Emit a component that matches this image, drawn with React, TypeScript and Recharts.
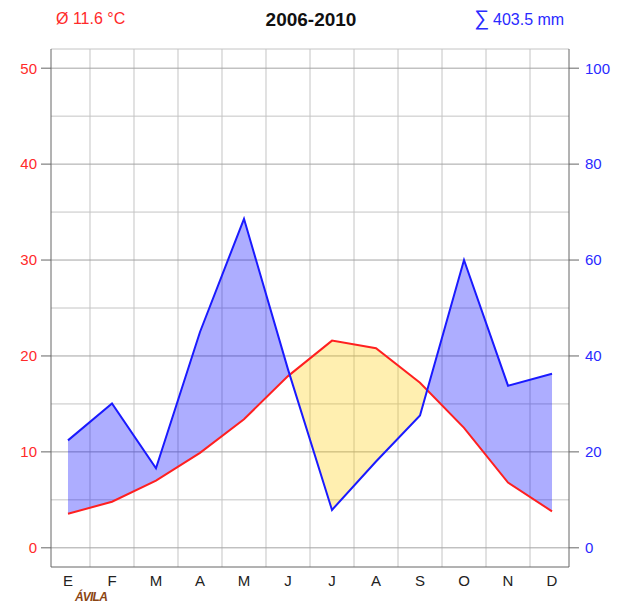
import React from 'react';
import { ComposedChart, Line, Area, XAxis, YAxis, CartesianGrid } from 'recharts';

const months = ['E', 'F', 'M', 'A', 'M', 'J', 'J', 'A', 'S', 'O', 'N', 'D'];
const temperature = [3.55, 4.8, 7.0, 9.9, 13.4, 17.9, 21.6, 20.8, 17.2, 12.5, 6.8, 3.8];
const precipitation = [22.4, 30.1, 16.6, 45.0, 68.6, 37.2, 7.9, 18.0, 27.6, 60.0, 33.8, 36.3];
const tempTicks = [0, 10, 20, 30, 40, 50];
const precTicks = [0, 20, 40, 60, 80, 100];
const minorGrid = [5, 15, 25, 35, 45, 52];
const monthGrid = [0.5, 1.5, 2.5, 3.5, 4.5, 5.5, 6.5, 7.5, 8.5, 9.5, 10.5];
const title = '2006-2010';
const meanTemp = 'Ø 11.6 °C';
const totalPrec = '403.5 mm';
const placeName = 'ÁVILA';

const lineData = months.map((m, i) => ({ x: i, temp: temperature[i], prec: precipitation[i] }));

// Fill polygons: temperature line vs precipitation (in temperature units, p/2),
// split where the two drawn lines cross so each region gets its own colour.
const fillData: { x: number; t: number; h: number }[] = [];
for (let i = 0; i < months.length; i++) {
  const t0 = temperature[i];
  const h0 = precipitation[i] / 2;
  fillData.push({ x: i, t: t0, h: h0 });
  if (i < months.length - 1) {
    const t1 = temperature[i + 1];
    const h1 = precipitation[i + 1] / 2;
    const d0 = h0 - t0;
    const d1 = h1 - t1;
    if (d0 * d1 < 0) {
      const s = d0 / (d0 - d1);
      const y = t0 + s * (t1 - t0);
      fillData.push({ x: i + s, t: y, h: y });
    }
  }
}

const FONT = '"Liberation Sans", Arial, sans-serif';

export default function App() {
  return (
    <div style={{ position: 'relative', width: 608, height: 595, fontFamily: FONT }}>
      <div style={{ position: 'absolute', left: 48, top: 2, color: '#ff2a2a', fontSize: 16, lineHeight: '18px' }}>
        {meanTemp}
      </div>
      <div
        style={{
          position: 'absolute',
          left: 303,
          top: 1,
          transform: 'translateX(-50%)',
          color: '#111',
          fontSize: 19,
          fontWeight: 'bold',
          lineHeight: '22px',
          whiteSpace: 'nowrap',
        }}
      >
        {title}
      </div>
      <div style={{ position: 'absolute', left: 466, top: 0, color: '#2a2aff', fontSize: 16, lineHeight: '20px', whiteSpace: 'nowrap' }}>
        <span style={{ fontSize: 21, marginRight: 4 }}>∑</span>
        {totalPrec}
      </div>
      <div
        style={{
          position: 'absolute',
          left: 67,
          top: 583,
          color: '#8b4513',
          fontSize: 12,
          fontWeight: 'bold',
          fontStyle: 'italic',
          letterSpacing: -0.8,
          lineHeight: '12px',
        }}
      >
        {placeName}
      </div>
      <ComposedChart
        width={608}
        height={590}
        data={lineData}
        margin={{ top: 41, right: 0, bottom: 0, left: 0 }}
        style={{ position: 'absolute', left: 0, top: 0 }}
      >
        <CartesianGrid
          yAxisId="left"
          stroke="#c4c4c4"
          horizontalValues={minorGrid}
          verticalValues={monthGrid}
        />
        <CartesianGrid yAxisId="left" stroke="#a4a4a4" vertical={false} horizontalValues={tempTicks} />
        <XAxis
          dataKey="x"
          type="number"
          domain={[-0.386, 11.386]}
          allowDataOverflow
          ticks={months.map((_, i) => i)}
          tickFormatter={(v: number) => months[v]}
          interval={0}
          height={31}
          tickLine={false}
          tickSize={6}
          tickMargin={2}
          axisLine={{ stroke: '#666' }}
          tick={{ fill: '#222', fontSize: 15, fontFamily: FONT }}
        />
        <YAxis
          yAxisId="left"
          orientation="left"
          domain={[-2, 52]}
          allowDataOverflow
          ticks={tempTicks}
          interval={0}
          width={43}
          tickSize={10}
          tickMargin={4}
          tickLine={{ stroke: '#666' }}
          axisLine={{ stroke: '#666' }}
          tick={{ fill: '#ff2a2a', fontSize: 15, fontFamily: FONT }}
        />
        <YAxis
          yAxisId="right"
          orientation="right"
          domain={[-4, 104]}
          allowDataOverflow
          ticks={precTicks}
          interval={0}
          width={47}
          tickSize={10}
          tickMargin={6}
          tickLine={{ stroke: '#666' }}
          axisLine={{ stroke: '#666' }}
          tick={{ fill: '#2a2aff', fontSize: 15, fontFamily: FONT, textAnchor: 'start' }}
        />
        <Area
          yAxisId="left"
          data={fillData}
          type="linear"
          dataKey={(d: { t: number; h: number }) => [d.t, Math.max(d.t, d.h)]}
          stroke="none"
          fill="#0000ff"
          fillOpacity={0.32}
          isAnimationActive={false}
        />
        <Area
          yAxisId="left"
          data={fillData}
          type="linear"
          dataKey={(d: { t: number; h: number }) => [d.h, Math.max(d.h, d.t)]}
          stroke="none"
          fill="#ffcc00"
          fillOpacity={0.31}
          isAnimationActive={false}
        />
        <Line
          yAxisId="left"
          type="linear"
          dataKey="temp"
          stroke="#ff2020"
          strokeWidth={2}
          dot={false}
          isAnimationActive={false}
        />
        <Line
          yAxisId="right"
          type="linear"
          dataKey="prec"
          stroke="#1a1aff"
          strokeWidth={2}
          dot={false}
          isAnimationActive={false}
        />
      </ComposedChart>
    </div>
  );
}
